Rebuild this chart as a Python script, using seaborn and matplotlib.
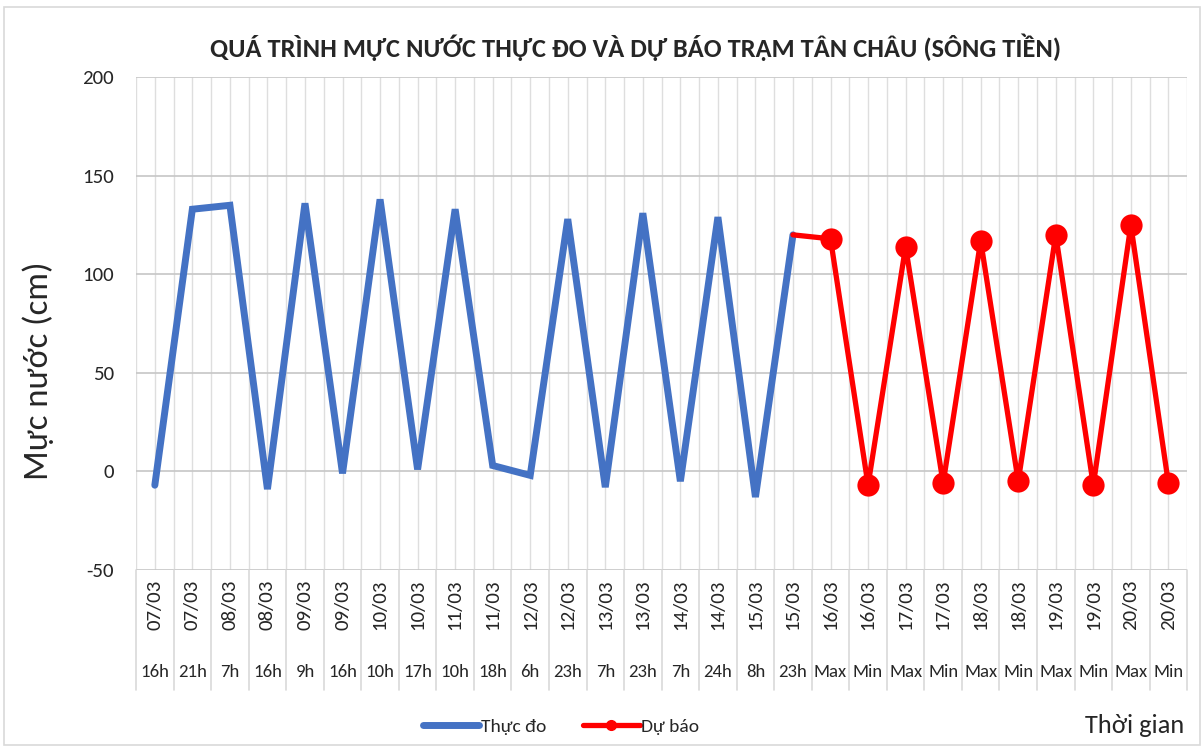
import matplotlib
matplotlib.use('Agg')
import matplotlib.pyplot as plt
import matplotlib.transforms as mtransforms
from matplotlib.patches import Rectangle
from matplotlib.lines import Line2D
import numpy as np
import pandas as pd
import seaborn as sns

# du lieu doc tu hinh
ngay = ['07/03', '07/03', '08/03', '08/03', '09/03', '09/03', '10/03', '10/03',
        '11/03', '11/03', '12/03', '12/03', '13/03', '13/03', '14/03', '14/03',
        '15/03', '15/03', '16/03', '16/03', '17/03', '17/03', '18/03', '18/03',
        '19/03', '19/03', '20/03', '20/03']
gio = ['16h', '21h', '7h', '16h', '9h', '16h', '10h', '17h', '10h', '18h', '6h',
       '23h', '7h', '23h', '7h', '24h', '8h', '23h', 'Max', 'Min', 'Max', 'Min',
       'Max', 'Min', 'Max', 'Min', 'Max', 'Min']
thuc_do = [-7, 133, 135, -9, 136, -1, 138, 1, 133, 3, -2, 128, -8, 131, -5, 129, -13, 120]
du_bao = [118, -7, 114, -6, 117, -5, 120, -7, 125, -6]

sns.set_style('white')
plt.rcParams['font.family'] = ['Carlito', 'DejaVu Sans']
plt.rcParams['axes.unicode_minus'] = False

n_obs = len(thuc_do)
df_obs = pd.DataFrame({'x': np.arange(n_obs), 'y': thuc_do})
# duong du bao noi tiep tu diem thuc do cuoi
df_fc = pd.DataFrame({'x': np.arange(n_obs - 1, n_obs + len(du_bao)),
                      'y': [thuc_do[-1]] + du_bao})

fig = plt.figure(figsize=(12.04, 7.49), dpi=100)
ax = fig.add_axes([0.113, 0.239, 0.873, 0.658])

n = len(ngay)
ax.vlines(np.arange(-0.5, n, 0.5), -50, 200, color='#dedede', lw=1, zorder=0)
ax.hlines(np.arange(-50, 201, 50), -0.5, n - 0.5, color='#c6c6c6', lw=1.2, zorder=0)

sns.lineplot(data=df_obs, x='x', y='y', ax=ax, color='#4472c4', lw=5,
             solid_capstyle='round', solid_joinstyle='miter')
sns.lineplot(data=df_fc, x='x', y='y', ax=ax, color='#ff0000', lw=3.8,
             marker='o', markersize=16, markeredgewidth=0,
             markevery=list(range(1, len(du_bao) + 1)))

ax.set_xlim(-0.5, n - 0.5)
ax.set_ylim(-50, 200)
ax.set_yticks(np.arange(-50, 201, 50))
ax.tick_params(axis='y', length=0, pad=16, labelsize=15)
ax.set_xticks([])
ax.set_xlabel('')
ax.set_ylabel('Mực nước (cm)', fontsize=25, va='center')
ax.yaxis.set_label_coords(-0.093, 0.404)
for s in ax.spines.values():
    s.set_visible(False)

# bang nhan truc hoanh
trans = mtransforms.blended_transform_factory(ax.transData, ax.transAxes)
for b in np.arange(-0.5, n, 1):
    ax.plot([b, b], [0, -0.243], transform=trans, color='#d9d9d9', lw=1.2, clip_on=False)
for i in range(n):
    ax.text(i, -0.071, ngay[i], transform=trans, rotation=90, ha='center', va='center',
            fontsize=15)
    ax.text(i, -0.207, gio[i], transform=trans, ha='center', va='center', fontsize=13.5)

h = [Line2D([], [], color='#4472c4', lw=5),
     Line2D([], [], color='#ff0000', lw=3.8, marker='o', markersize=7)]
fig.legend(h, ['Thực đo', 'Dự báo'], loc='center', bbox_to_anchor=(0.466, 0.03), ncol=2,
           frameon=False, fontsize=14, handlelength=2.9, columnspacing=1.9, handletextpad=0.1)

fig.text(0.528, 0.937, 'QUÁ TRÌNH MỰC NƯỚC THỰC ĐO VÀ DỰ BÁO TRẠM TÂN CHÂU (SÔNG TIỀN)',
         ha='center', va='center', fontsize=19, fontweight='bold')
fig.text(0.984, 0.032, 'Thời gian', ha='right', va='center', fontsize=19)

fig.patches.append(Rectangle((0.003, 0.005), 0.994, 0.985, transform=fig.transFigure,
                             fill=False, edgecolor='#d9d9d9', lw=1.2))

fig.savefig('out.png', dpi=100)
